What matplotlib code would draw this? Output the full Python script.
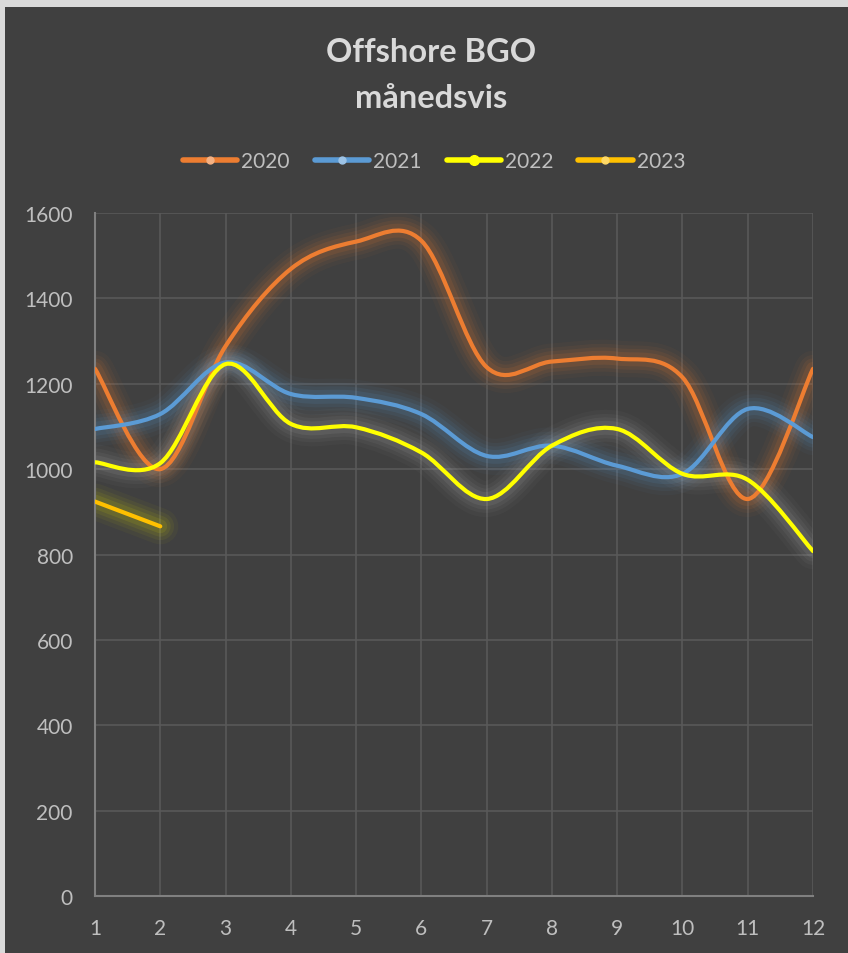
import numpy as np
import matplotlib
matplotlib.use("Agg")
import matplotlib.pyplot as plt
from matplotlib.path import Path
from matplotlib.patches import PathPatch, Rectangle
from matplotlib.lines import Line2D

plt.rcParams['font.family'] = ['Lato', 'DejaVu Sans']

months = np.arange(1, 13)
v2020 = [1235, 1000, 1288, 1469, 1533, 1535, 1239, 1252, 1259, 1215, 930, 1235]
v2021 = [1094, 1129, 1250, 1176, 1167, 1129, 1031, 1055, 1008, 989, 1141, 1075]
v2022 = [1016, 1014, 1246, 1106, 1098, 1039, 930, 1055, 1094, 989, 975, 808]
v2023 = [924, 866]

series = [
    ('2020', v2020, '#ED7D31', '#ED7D31', '#F4B183', 5),
    ('2021', v2021, '#5B9BD5', '#5B9BD5', '#9DC3E6', 5),
    ('2022', v2022, '#FFFF00', '#B0B0B0', '#FFFF00', 7),
    ('2023', v2023, '#FFC000', '#E0E000', '#FFD966', 5),
]

bg = '#404040'


def smooth_path(x, y):
    # excel-like bezier smoothing
    x = np.asarray(x, float)
    y = np.asarray(y, float)
    n = len(x)
    verts = [(x[0], y[0])]
    codes = [Path.MOVETO]
    for i in range(n - 1):
        p0 = i - 1 if i > 0 else i
        p3 = i + 2 if i + 2 < n else i + 1
        c1 = (x[i] + (x[i + 1] - x[p0]) / 6, y[i] + (y[i + 1] - y[p0]) / 6)
        c2 = (x[i + 1] - (x[p3] - x[i]) / 6, y[i + 1] - (y[p3] - y[i]) / 6)
        verts += [c1, c2, (x[i + 1], y[i + 1])]
        codes += [Path.CURVE4] * 3
    return Path(verts, codes)


fig = plt.figure(figsize=(8.48, 9.54), dpi=100, facecolor=bg)
ax = fig.add_axes([95 / 848, 1 - 897 / 954, (813 - 95) / 848, (897 - 214) / 954])
ax.set_facecolor(bg)

for name, vals, col, glow, mcol, ms in series:
    path = smooth_path(months[:len(vals)], vals)
    for w, a in [(26, 0.04), (20, 0.06), (15, 0.08), (10, 0.11)]:
        ax.add_patch(PathPatch(path, fill=False, edgecolor=glow, lw=w, alpha=a,
                               capstyle='round', joinstyle='round', zorder=2))
for name, vals, col, glow, mcol, ms in series:
    path = smooth_path(months[:len(vals)], vals)
    ax.add_patch(PathPatch(path, fill=False, edgecolor=col, lw=3,
                           capstyle='round', joinstyle='round', zorder=3))

ax.set_xlim(1, 12)
ax.set_ylim(0, 1600)
ax.set_xticks(months)
ax.set_yticks(np.arange(0, 1601, 200))
ax.grid(True, color='#595959', lw=1.2, zorder=0)
ax.set_axisbelow(True)
for s in ['top', 'right']:
    ax.spines[s].set_visible(False)
for s in ['left', 'bottom']:
    ax.spines[s].set_color('#808080')
    ax.spines[s].set_linewidth(1.5)
ax.tick_params(length=0, labelcolor='#BFBFBF', labelsize=15)
ax.tick_params(axis='x', pad=16)
ax.tick_params(axis='y', pad=16)

fig.text(431 / 848, 1 - 53 / 954, 'Offshore BGO', ha='center', va='center',
         fontsize=23.5, fontweight='bold', color='#D9D9D9')
fig.text(431 / 848, 1 - 99 / 954, 'månedsvis', ha='center', va='center',
         fontsize=23.5, fontweight='bold', color='#D9D9D9')

handles = [Line2D([], [], color=col, lw=4, marker='o', markersize=ms,
                  markerfacecolor=mcol, markeredgecolor=mcol, solid_capstyle='round')
           for name, vals, col, glow, mcol, ms in series]
fig.legend(handles, [s[0] for s in series], loc='center',
           bbox_to_anchor=(434 / 848, 1 - 162 / 954), ncol=4, frameon=False,
           fontsize=15, labelcolor='#BFBFBF', handlelength=2.6,
           handletextpad=0.2, columnspacing=1.2)

# light frame strip from the screenshot
fig.add_artist(Rectangle((0, 1 - 8 / 954), 1, 8 / 954, transform=fig.transFigure,
                         facecolor='#DADADA', edgecolor='none'))
fig.add_artist(Rectangle((0, 0), 5 / 848, 1, transform=fig.transFigure,
                         facecolor='#DADADA', edgecolor='none'))

fig.savefig('out.png', dpi=100, facecolor=bg)
